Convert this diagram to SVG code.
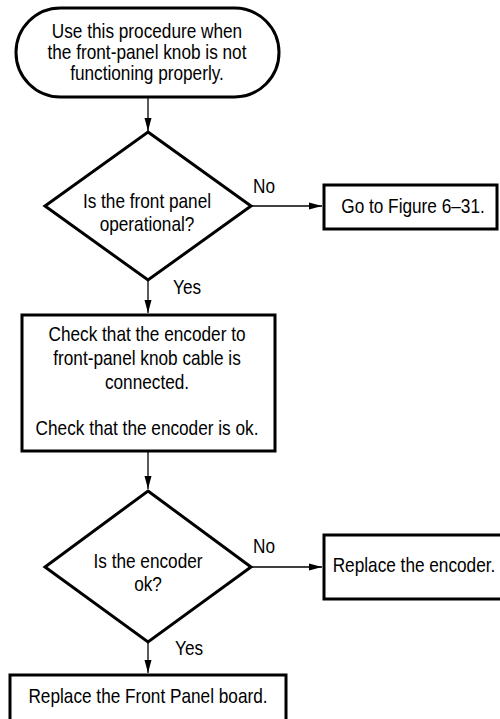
<svg xmlns="http://www.w3.org/2000/svg" width="500" height="719" viewBox="0 0 500 719">
<defs>
<marker id="ah" markerUnits="userSpaceOnUse" markerWidth="14" markerHeight="8" refX="13" refY="4" orient="auto">
<path d="M0,0.5 L13,4 L0,7.5 Z" fill="#000"/>
</marker>
<style>
.shape{fill:#fff;stroke:#000;stroke-width:3;stroke-linejoin:miter}
.conn{stroke:#000;stroke-width:1.3;fill:none;marker-end:url(#ah)}
text{font-family:"Liberation Sans",Arial,sans-serif;font-size:21px;fill:#000}
.c{text-anchor:middle}
</style>
</defs>
<rect width="500" height="719" fill="#fff"/>
<g id="connectors">
<line class="conn" x1="148" y1="98" x2="148" y2="131"/>
<line class="conn" x1="251" y1="206" x2="322" y2="206"/>
<line class="conn" x1="148" y1="281" x2="148" y2="313"/>
<line class="conn" x1="148" y1="452" x2="148" y2="489"/>
<line class="conn" x1="251" y1="567" x2="322" y2="567"/>
<line class="conn" x1="148" y1="643" x2="148" y2="673"/>
<text transform="translate(253,193) scale(0.82,1)">No</text>
<text transform="translate(173,294) scale(0.82,1)">Yes</text>
<text transform="translate(253,553) scale(0.82,1)">No</text>
<text transform="translate(175,655) scale(0.82,1)">Yes</text>
</g>
<g id="start">
<rect class="shape" x="16" y="8" width="263" height="89" rx="44.5" ry="44.5"/>
<text class="c" transform="translate(147,38) scale(0.82,1)">Use this procedure when</text>
<text class="c" transform="translate(147,59) scale(0.82,1)">the front-panel knob is not</text>
<text class="c" transform="translate(147,80) scale(0.82,1)">functioning properly.</text>
</g>
<g id="decision1">
<polygon class="shape" points="148,132 251,206 148,280 45,206"/>
<text class="c" transform="translate(147,208) scale(0.82,1)">Is the front panel</text>
<text class="c" transform="translate(147,231) scale(0.82,1)">operational?</text>
</g>
<g id="goto">
<rect class="shape" x="324" y="185" width="173" height="44"/>
<text class="c" transform="translate(413,213) scale(0.82,1)">Go to Figure 6–31.</text>
</g>
<g id="check">
<rect class="shape" x="22" y="315" width="253" height="136"/>
<text class="c" transform="translate(147,341) scale(0.82,1)">Check that the encoder to</text>
<text class="c" transform="translate(147,365) scale(0.82,1)">front-panel knob cable is</text>
<text class="c" transform="translate(147,389) scale(0.82,1)">connected.</text>
<text class="c" transform="translate(147,435) scale(0.82,1)">Check that the encoder is ok.</text>
</g>
<g id="decision2">
<polygon class="shape" points="148,491 251,567 148,642 45,567"/>
<text class="c" transform="translate(148,568) scale(0.82,1)">Is the encoder</text>
<text class="c" transform="translate(148,591) scale(0.82,1)">ok?</text>
</g>
<g id="replace-encoder">
<rect class="shape" x="324" y="535" width="185" height="64"/>
<text class="c" transform="translate(414,572) scale(0.82,1)">Replace the encoder.</text>
</g>
<g id="replace-board">
<rect class="shape" x="10" y="675" width="276" height="55"/>
<text class="c" transform="translate(148,703) scale(0.82,1)">Replace the Front Panel board.</text>
</g>
</svg>
